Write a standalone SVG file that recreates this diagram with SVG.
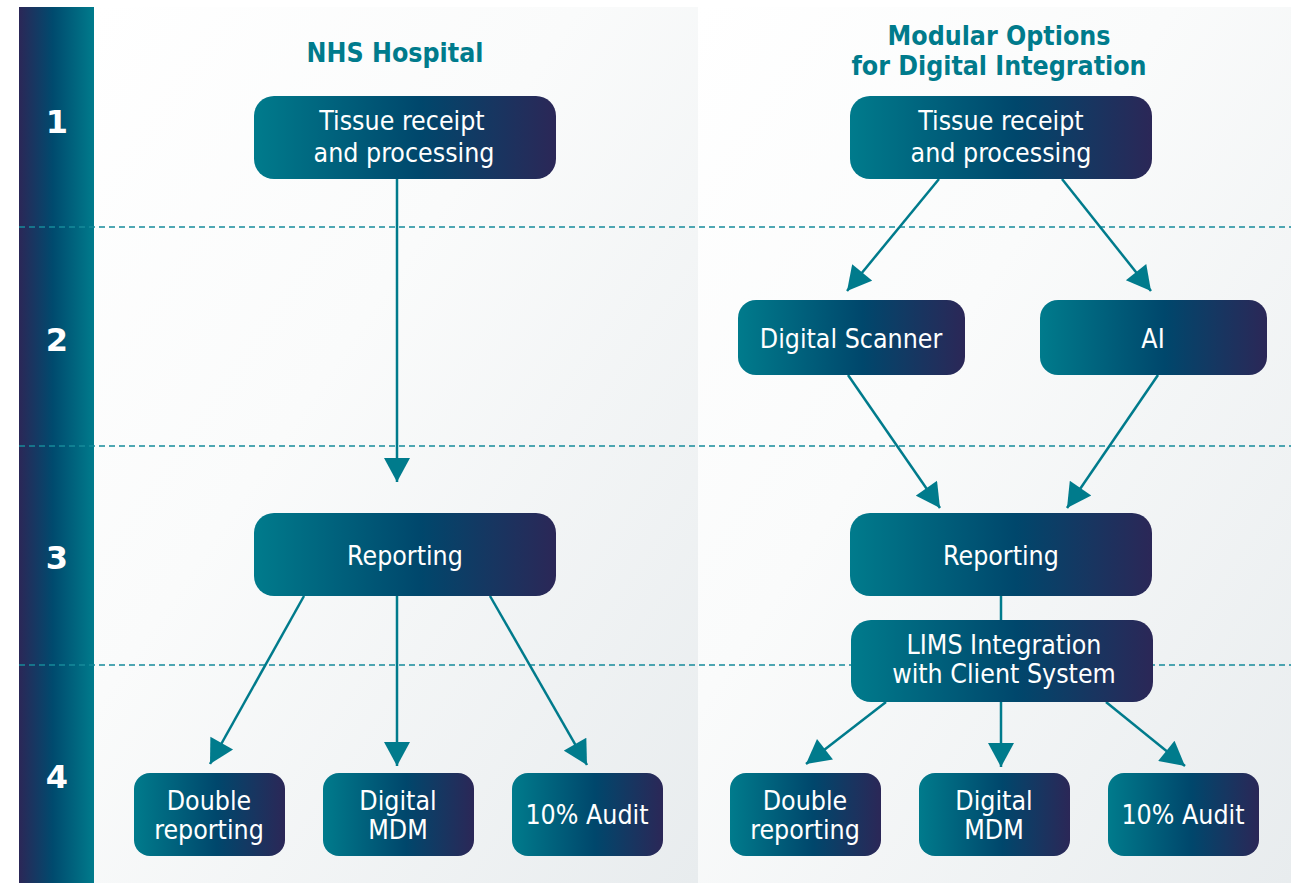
<svg xmlns="http://www.w3.org/2000/svg" width="1291" height="883" viewBox="0 0 1291 883">
<defs>
<linearGradient id="bar" x1="0" y1="0" x2="1" y2="0">
<stop offset="0" stop-color="#2b2757"/>
<stop offset="0.45" stop-color="#004a6e"/>
<stop offset="1" stop-color="#007b8c"/>
</linearGradient>
<linearGradient id="node" x1="0" y1="0" x2="1" y2="0">
<stop offset="0" stop-color="#007b8c"/>
<stop offset="0.55" stop-color="#00476c"/>
<stop offset="1" stop-color="#2b2757"/>
</linearGradient>
<linearGradient id="panel" x1="0" y1="0" x2="1" y2="1">
<stop offset="0" stop-color="#ffffff"/>
<stop offset="0.4" stop-color="#fafbfb"/>
<stop offset="1" stop-color="#e8ecee"/>
</linearGradient>
<marker id="arr" markerUnits="userSpaceOnUse" markerWidth="26" markerHeight="26" viewBox="0 0 24 26" refX="24" refY="13" orient="auto">
<path d="M0,0 L24,13 L0,26 Z" fill="#007b8c"/>
</marker>
<style>
.nd{fill:url(#node);}
.t{font-family:"DejaVu Sans Condensed","DejaVu Sans",sans-serif;font-size:26.5px;fill:#ffffff;text-anchor:middle;}
.num{font-family:"DejaVu Sans","Liberation Sans",sans-serif;font-weight:bold;font-size:32px;fill:#ffffff;text-anchor:middle;}
.hd{font-family:"DejaVu Sans Condensed","DejaVu Sans",sans-serif;font-weight:bold;font-size:26.5px;fill:#007b8c;text-anchor:middle;}
.dash{stroke:#168a9a;stroke-width:1.4;stroke-dasharray:6 4;fill:none;}
.c{stroke:#007b8c;stroke-width:2.5;fill:none;}
</style>
</defs>
<rect x="0" y="0" width="1291" height="883" fill="#ffffff"/>
<g id="panels">
<rect x="94" y="7" width="604" height="876" fill="url(#panel)"/>
<rect x="698" y="7" width="593" height="876" fill="url(#panel)"/>
</g>
<g id="bar">
<rect x="19" y="7" width="75" height="876" fill="url(#bar)"/>
<text class="num" x="57" y="133">1</text>
<text class="num" x="57" y="351">2</text>
<text class="num" x="57" y="569">3</text>
<text class="num" x="57" y="788">4</text>
</g>
<g id="dividers">
<line class="dash" x1="19" y1="227" x2="1291" y2="227"/>
<line class="dash" x1="19" y1="446" x2="1291" y2="446"/>
<line class="dash" x1="19" y1="665" x2="1291" y2="665"/>
</g>
<g id="headers">
<text class="hd" x="395" y="62">NHS Hospital</text>
<text class="hd" x="999" y="45">Modular Options</text>
<text class="hd" x="999" y="75">for Digital Integration</text>
</g>
<g id="connectors">
<line class="c" x1="397" y1="179" x2="397" y2="482" marker-end="url(#arr)"/>
<line class="c" x1="304" y1="596" x2="210" y2="764" marker-end="url(#arr)"/>
<line class="c" x1="397" y1="596" x2="397" y2="766" marker-end="url(#arr)"/>
<line class="c" x1="490" y1="596" x2="587" y2="765" marker-end="url(#arr)"/>
<line class="c" x1="939" y1="179" x2="847" y2="291" marker-end="url(#arr)"/>
<line class="c" x1="1062" y1="179" x2="1151" y2="291" marker-end="url(#arr)"/>
<line class="c" x1="848" y1="375" x2="940" y2="508" marker-end="url(#arr)"/>
<line class="c" x1="1158" y1="375" x2="1067" y2="508" marker-end="url(#arr)"/>
<line class="c" x1="1001" y1="595" x2="1001" y2="620"/>
<line class="c" x1="886" y1="702" x2="806" y2="764" marker-end="url(#arr)"/>
<line class="c" x1="1001" y1="702" x2="1001" y2="767" marker-end="url(#arr)"/>
<line class="c" x1="1106" y1="702" x2="1185" y2="766" marker-end="url(#arr)"/>
</g>
<g id="n-tissue-left">
<rect class="nd" x="254" y="96" width="302" height="83" rx="20"/>
<text class="t" x="402" y="130">Tissue receipt</text>
<text class="t" x="404" y="162">and processing</text>
</g>
<g id="n-reporting-left">
<rect class="nd" x="254" y="513" width="302" height="83" rx="20"/>
<text class="t" x="405" y="565">Reporting</text>
</g>
<g id="n-double-left">
<rect class="nd" x="134" y="773" width="151" height="83" rx="16"/>
<text class="t" x="209" y="810">Double</text>
<text class="t" x="209" y="839">reporting</text>
</g>
<g id="n-mdm-left">
<rect class="nd" x="323" y="773" width="151" height="83" rx="16"/>
<text class="t" x="398" y="810">Digital</text>
<text class="t" x="398" y="839">MDM</text>
</g>
<g id="n-audit-left">
<rect class="nd" x="512" y="773" width="151" height="83" rx="16"/>
<text class="t" x="587" y="824">10% Audit</text>
</g>
<g id="n-tissue-right">
<rect class="nd" x="850" y="96" width="302" height="83" rx="20"/>
<text class="t" x="1001" y="130">Tissue receipt</text>
<text class="t" x="1001" y="162">and processing</text>
</g>
<g id="n-scanner">
<rect class="nd" x="738" y="300" width="227" height="75" rx="18"/>
<text class="t" x="851" y="348">Digital Scanner</text>
</g>
<g id="n-ai">
<rect class="nd" x="1040" y="300" width="227" height="75" rx="18"/>
<text class="t" x="1153" y="348">AI</text>
</g>
<g id="n-reporting-right">
<rect class="nd" x="850" y="513" width="302" height="83" rx="20"/>
<text class="t" x="1001" y="565">Reporting</text>
</g>
<g id="n-lims">
<rect class="nd" x="851" y="620" width="302" height="82" rx="20"/>
<text class="t" x="1004" y="654">LIMS Integration</text>
<text class="t" x="1004" y="683">with Client System</text>
</g>
<g id="n-double-right">
<rect class="nd" x="730" y="773" width="151" height="83" rx="16"/>
<text class="t" x="805" y="810">Double</text>
<text class="t" x="805" y="839">reporting</text>
</g>
<g id="n-mdm-right">
<rect class="nd" x="919" y="773" width="151" height="83" rx="16"/>
<text class="t" x="994" y="810">Digital</text>
<text class="t" x="994" y="839">MDM</text>
</g>
<g id="n-audit-right">
<rect class="nd" x="1108" y="773" width="151" height="83" rx="16"/>
<text class="t" x="1183" y="824">10% Audit</text>
</g>
</svg>
